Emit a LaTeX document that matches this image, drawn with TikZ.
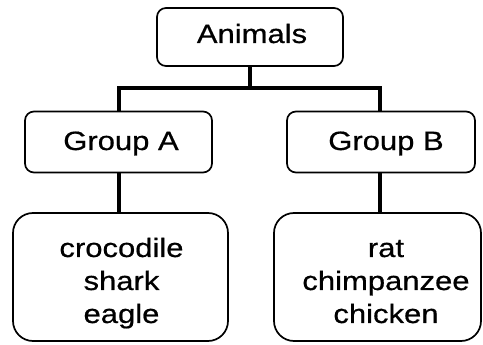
\documentclass[tikz,border=0pt]{standalone}
\usepackage{fontspec}
\setmainfont{Liberation Sans}[FakeStretch=1.17,FakeBold=0.6]
\begin{document}
\begin{tikzpicture}[x=1pt,y=-1pt,
  box/.style={draw, line width=1.7pt, rounded corners=9pt, inner sep=0pt},
  bigbox/.style={box, rounded corners=20pt},
  txt/.style={anchor=base, inner sep=0pt, font=\fontsize{26.5}{33}\selectfont},
  conn/.style={line width=3.8pt}]
\useasboundingbox (0,0) rectangle (483,345);
\node[box, minimum width=186pt, minimum height=58pt] (animals) at (250,37) {};
\node[box, minimum width=187pt, minimum height=61pt] (ga) at (118.5,142) {};
\node[box, minimum width=188pt, minimum height=61pt] (gb) at (381,142) {};
\node[bigbox, minimum width=215pt, minimum height=128pt] (la) at (120.5,277) {};
\node[bigbox, minimum width=207pt, minimum height=128pt] (lb) at (377.5,277) {};
\node[txt] (tanimals) at (252,43) {Animals};
\node[txt] (tga) at (121,150) {Group A};
\node[txt] (tgb) at (386,150) {Group B};
\node[txt] (la1) at (121.5,257) {crocodile};
\node[txt] (la2) at (121.5,290) {shark};
\node[txt] (la3) at (121.5,323) {eagle};
\node[txt] (lb1) at (386,257) {rat};
\node[txt] (lb2) at (386,290) {chimpanzee};
\node[txt] (lb3) at (386,323) {chicken};
\coordinate (j) at (250,88);
\draw[conn] (animals.south) -- (j);
\draw[conn] (ga.north -| 119,0) |- (j) -| (gb.north -| 380,0);
\draw[conn] (ga.south -| 119,0) -- (la.north -| 119,0);
\draw[conn] (gb.south -| 380,0) -- (lb.north -| 380,0);
\end{tikzpicture}
\end{document}
